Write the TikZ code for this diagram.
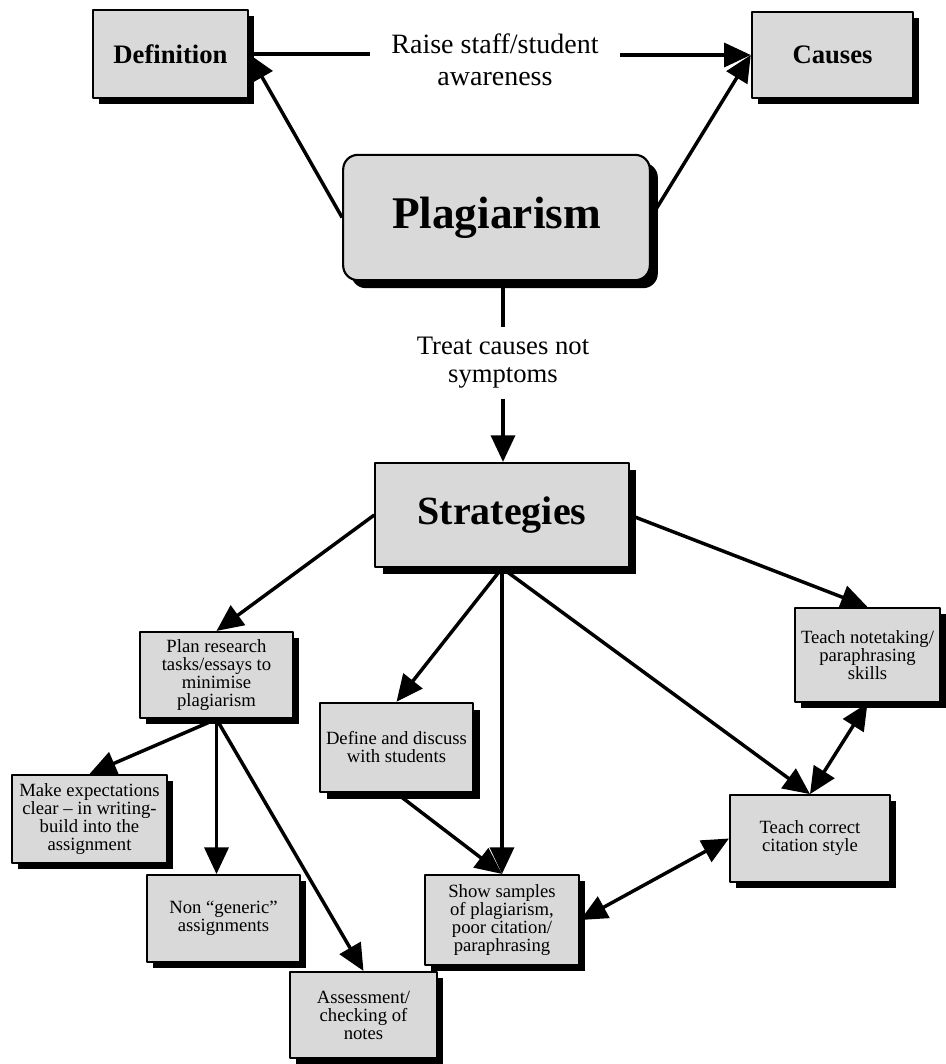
\documentclass[tikz,border=0pt]{standalone}
\usepackage{fontspec}
\setmainfont{Liberation Serif}
\usetikzlibrary{arrows.meta,shadows}
\newcommand{\boxfont}{\fontsize{14}{13.5}\selectfont}
\tikzset{
  box/.style={draw, line width=1.6pt, fill=black!15, align=center, font=\boxfont, inner sep=2pt,
    drop shadow={shadow xshift=#1, shadow yshift=-#1, fill=black, opacity=1}},
  box/.default=4.5pt,
  headbox/.style={box=#1, font=\fontsize{20}{24}\selectfont\bfseries},
  headbox/.default=4.5pt,
  linktext/.style={align=center, font=\fontsize{20}{21}\selectfont},
  link/.style={line width=2.6pt}
}
\begin{document}
\begin{tikzpicture}[x=0.75pt, y=-0.75pt, line join=round, >={Triangle[length=20pt,width=18pt]}]
\useasboundingbox (0,0) rectangle (946,1064);
% top row
\node[headbox, minimum width=116pt, minimum height=66pt] (def) at (170.5,54) {Definition};
\node[headbox, minimum width=121pt, minimum height=64.5pt] (causes) at (832.5,55) {Causes};
\node[linktext, inner xsep=16pt, font=\fontsize{21}{24}\selectfont] (raise) at (495,60) {Raise staff/student\\awareness};
\node[headbox=6pt, rounded corners=11pt, minimum width=230pt, minimum height=94pt, font=\fontsize{34}{36}\selectfont\bfseries] (plag) at (496.5,217.5) {Plagiarism};
\node[linktext, inner ysep=7.5pt] (treat) at (503,363) {Treat causes not\\symptoms};
\node[headbox=5.5pt, minimum width=190pt, minimum height=78pt, font=\fontsize{30}{32}\selectfont\bfseries] (strat) at (502,515) {Strategies};
% strategies
\node[box, minimum width=115pt, minimum height=64.5pt] (plan) at (216.5,675) {Plan research\\tasks/essays to\\minimise\\plagiarism};
\node[box, minimum width=116pt, minimum height=66pt] (make) at (89.5,819) {Make expectations\\clear – in writing-\\build into the\\assignment};
\node[box, minimum width=115pt, minimum height=65pt] (nongen) at (223.5,918.5) {Non “generic”\\assignments};
\node[box, minimum width=110pt, minimum height=64.5pt] (assess) at (363.5,1015) {Assessment/\\checking of\\notes};
\node[box=5pt, minimum width=115pt, minimum height=67pt] (defdisc) at (396.5,747.5) {Define and discuss\\with students};
\node[box, minimum width=116pt, minimum height=67.5pt] (samples) at (502,920) {Show samples\\of plagiarism,\\poor citation/\\paraphrasing};
\node[box, minimum width=109pt, minimum height=70.5pt] (notetake) at (867.5,655) {Teach notetaking/\\paraphrasing\\skills};
\node[box, minimum width=120pt, minimum height=65pt] (citation) at (810,838.5) {Teach correct\\citation style};
% connectors
\draw[link] (def.east) -- (def.east -| raise.west);
\draw[link,->] (raise.east |- causes.west) -- (causes.west);
\draw[link,->] (plag.west) -- (def.east);
\draw[link,->] (plag.east) -- (causes.west);
\draw[link] (plag.south -| treat.north) -- (treat.north);
\draw[link,->] (treat.south) -- (treat.south |- strat.north);
\draw[link,->] (strat.west) -- (plan.north);
\draw[link,->] (strat.east) -- (notetake.north);
\draw[link,->] (strat.south) -- (defdisc.north);
\draw[link,->] (strat.south) -- (samples.north);
\draw[link,->] (strat.south) -- (citation.north);
\draw[link,->] (plan.south) -- (make.north);
\draw[link,->] (plan.south) -- (plan.south |- nongen.north);
\draw[link,->] (plan.south) -- (assess.north);
\draw[link,->] (defdisc.south) -- (samples.north);
\draw[link,<->] (samples.east) -- (citation.west);
\draw[link,<->] (citation.north) -- (notetake.south);
\end{tikzpicture}
\end{document}
